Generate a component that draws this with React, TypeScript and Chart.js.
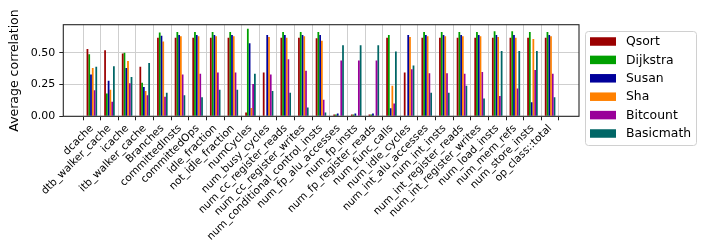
import React, { useEffect, useRef } from "react";
import { Chart, registerables } from "chart.js";

Chart.register(...registerables);

const categories = [
  "dcache", "dtb_walker_cache", "icache", "itb_walker_cache", "Branches",
  "committedInsts", "committedOps", "idle_fraction", "not_idle_fraction", "numCycles",
  "num_busy_cycles", "num_cc_register_reads", "num_cc_register_writes",
  "num_conditional_control_insts", "num_fp_alu_accesses", "num_fp_insts",
  "num_fp_register_reads", "num_func_calls", "num_idle_cycles", "num_int_alu_accesses",
  "num_int_insts", "num_int_register_reads", "num_int_register_writes", "num_load_insts",
  "num_mem_refs", "num_store_insts", "op_class::total",
];

const qsort = [0.53, 0.52, 0.495, 0.39, 0.62, 0.62, 0.62, 0.62, 0.62, 0.03, 0.345, 0.62, 0.62, 0.615, 0.015, 0.015, 0.015, 0.62, 0.345, 0.62, 0.62, 0.62, 0.62, 0.62, 0.62, 0.62, 0.62];
const dijkstra = [0.49, 0.18, 0.5, 0.265, 0.66, 0.665, 0.665, 0.665, 0.665, 0.69, 0.005, 0.665, 0.665, 0.665, 0.015, 0.015, 0.015, 0.64, 0.005, 0.665, 0.665, 0.665, 0.665, 0.67, 0.67, 0.665, 0.665];
const susan = [0.33, 0.28, 0.38, 0.23, 0.635, 0.64, 0.64, 0.64, 0.64, 0.575, 0.64, 0.64, 0.64, 0.64, 0.022, 0.022, 0.022, 0.063, 0.64, 0.64, 0.64, 0.64, 0.64, 0.64, 0.64, 0.11, 0.64];
const sha = [0.38, 0.21, 0.435, 0.2, 0.59, 0.63, 0.63, 0.63, 0.63, 0.065, 0.625, 0.62, 0.63, 0.595, 0.005, 0.005, 0.005, 0.24, 0.625, 0.63, 0.63, 0.63, 0.63, 0.625, 0.62, 0.61, 0.63];
const bitcount = [0.205, 0.115, 0.26, 0.165, 0.155, 0.33, 0.335, 0.345, 0.345, 0.255, 0.33, 0.45, 0.36, 0.13, 0.44, 0.44, 0.44, 0.1, 0.37, 0.34, 0.34, 0.335, 0.35, 0.16, 0.22, 0.365, 0.335];
const basicmath = [0.39, 0.395, 0.31, 0.42, 0.185, 0.165, 0.15, 0.21, 0.21, 0.335, 0.2, 0.185, 0.07, 0.03, 0.56, 0.56, 0.56, 0.51, 0.4, 0.185, 0.185, 0.24, 0.14, 0.515, 0.515, 0.515, 0.15];

const seriesNames = ["Qsort", "Dijkstra", "Susan", "Sha", "Bitcount", "Basicmath"];
const seriesColors = ["#9b0000", "#00a000", "#00009b", "#ff8000", "#990099", "#006666"];
const yTicks = [0, 0.25, 0.5];

const FONT = "'DejaVu Sans', sans-serif";

export default function App() {
  const ref = useRef<HTMLCanvasElement>(null);

  useEffect(() => {
    document.body.style.margin = "0";
    const W = 706;
    const H = 249;
    const PLOT = { left: 63.3, right: 579, top: 24.7, bottom: 116.3 };
    const allSeries = [qsort, dijkstra, susan, sha, bitcount, basicmath];

    const frame = {
      id: "frame",
      afterDatasetsDraw(chart: any) {
        const { ctx, chartArea: a } = chart;
        ctx.save();
        ctx.strokeStyle = "#262626";
        ctx.lineWidth = 1.1;
        ctx.strokeRect(a.left, a.top, a.right - a.left, a.bottom - a.top);
        ctx.restore();
      },
    };

    const legendBox = {
      id: "legendBox",
      afterDraw(chart: any) {
        const ctx = chart.ctx;
        ctx.save();
        ctx.beginPath();
        (ctx as any).roundRect(585.5, 31.5, 111, 114, 3);
        ctx.fillStyle = "rgba(255,255,255,0.85)";
        ctx.fill();
        ctx.strokeStyle = "#d0d0d0";
        ctx.lineWidth = 1;
        ctx.stroke();
        ctx.font = `12.4px ${FONT}`;
        ctx.textBaseline = "middle";
        chart.data.datasets.forEach((ds: any, i: number) => {
          const cy = 41.5 + i * 18.4;
          ctx.fillStyle = ds.backgroundColor;
          ctx.fillRect(590, cy - 4.25, 26, 8.5);
          ctx.fillStyle = "#000";
          ctx.fillText(ds.label, 626, cy + 0.5);
        });
        ctx.restore();
      },
    };

    const chart = new Chart(ref.current as HTMLCanvasElement, {
      type: "bar",
      data: {
        datasets: seriesNames.map((name, s) => ({
          label: name,
          data: categories.map((_, i) => ({ x: i, y: allSeries[s][i] })),
          backgroundColor: seriesColors[s],
          borderWidth: 0,
          categoryPercentage: 0.6,
          barPercentage: 1,
        })),
      } as any,
      options: {
        animation: false,
        responsive: false,
        maintainAspectRatio: false,
        layout: { padding: { top: PLOT.top, right: W - PLOT.right, left: 0, bottom: 0 } },
        plugins: { legend: { display: false }, tooltip: { enabled: false } },
        scales: {
          x: {
            type: "linear",
            min: -1.62,
            max: 27.64,
            offset: false,
            afterBuildTicks: (s: any) => {
              s.ticks = categories.map((_, i) => ({ value: i }));
            },
            afterFit: (s: any) => {
              s.height = H - PLOT.bottom;
            },
            grid: { color: "#cfcfcf", lineWidth: 1, tickColor: "#222", tickLength: 4 },
            border: { display: false },
            ticks: {
              autoSkip: false,
              maxRotation: 45,
              minRotation: 45,
              padding: 2,
              color: "#000",
              font: { family: FONT, size: 10.5 },
              callback: (v: any) => categories[v as number] ?? "",
            },
          },
          y: {
            min: 0,
            max: 0.722,
            afterBuildTicks: (s: any) => {
              s.ticks = yTicks.map((v) => ({ value: v }));
            },
            afterFit: (s: any) => {
              s.width = PLOT.left;
            },
            grid: { color: "#cfcfcf", lineWidth: 1, tickColor: "#222", tickLength: 4 },
            border: { display: false },
            title: {
              display: true,
              text: "Average correlation",
              color: "#000",
              font: { family: FONT, size: 12.5 },
              padding: { top: 7, bottom: 0 },
            },
            ticks: {
              padding: 4,
              color: "#000",
              font: { family: FONT, size: 11 },
              callback: (v: any) => Number(v).toFixed(2),
            },
          },
        },
      } as any,
      plugins: [frame, legendBox],
    });
    return () => chart.destroy();
  }, []);

  return (
    <div style={{ width: 706, height: 249 }}>
      <canvas ref={ref} width={706} height={249} style={{ display: "block", width: 706, height: 249 }} />
    </div>
  );
}
